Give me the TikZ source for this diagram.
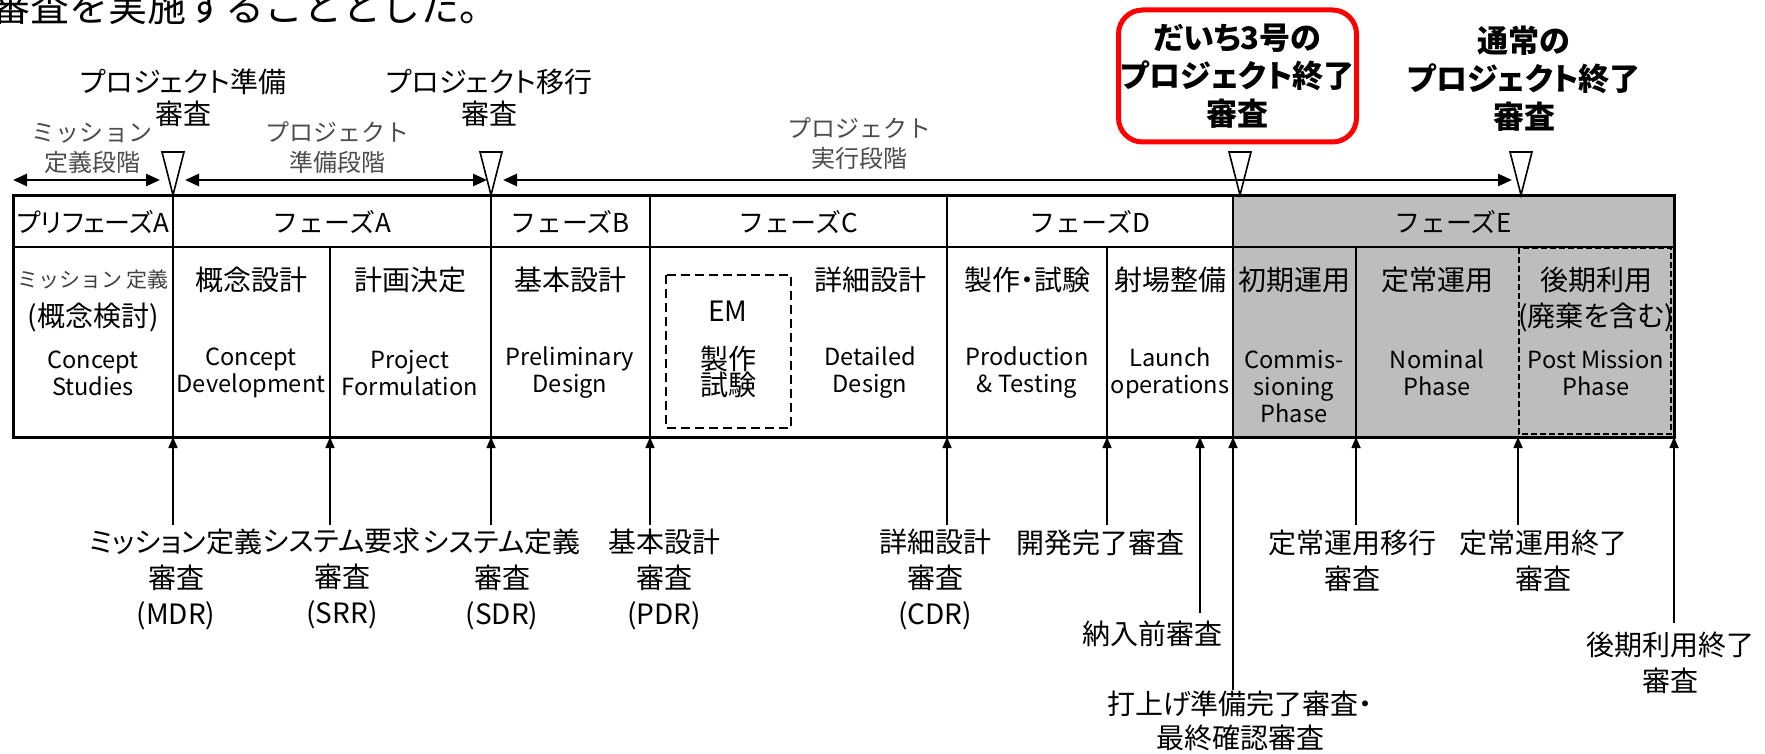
\documentclass[tikz,border=0pt]{standalone}
\usepackage{fontspec}
\setmainfont{Noto Sans CJK JP}[RawFeature=+palt]
\newfontfamily\fw{Noto Sans CJK JP}
\usetikzlibrary{arrows.meta}
\definecolor{phasegray}{RGB}{189,189,189}
\definecolor{boxred}{RGB}{255,0,0}
\newcommand\fs[2]{\fontsize{#1}{#2}\selectfont}
\begin{document}
\begin{tikzpicture}[x=0.5pt,y=-0.5pt,
  txt/.style={inner sep=0pt,align=center},
  hdr/.style={txt,font=\fw\fs{13}{16}},
  jt/.style={txt,font=\fs{14}{17}},
  eng/.style={txt,font=\fs{11.8}{13.5}},
  stagelbl/.style={txt,font=\fw\fs{12}{15},text=black!70},
  toplbl/.style={txt,font=\fs{14}{16}},
  endlbl/.style={txt,font=\bfseries\fs{15.5}{19}},
  revlbl/.style={txt,font=\fs{14}{18}},
  stagespan/.style={line width=1.3pt,{Triangle[length=7pt,width=6pt]}-{Triangle[length=7pt,width=6pt]}},
  uparr/.style={line width=0.8pt,-{Triangle[length=5.5pt,width=4.5pt]}},
  gate/.style={line width=0.8pt,line join=miter},
  tblline/.style={line width=1pt},
]
\useasboundingbox (0,0) rectangle (1765,754);
\clip (0,0) rectangle (1765,754);

% title fragment
\node[inner sep=0pt,anchor=base west,font=\fw\fs{19.5}{21}] (title) at (-9,22) {審査を実施することとした。};

% table
\fill[phasegray] (1233,196) rectangle (1674,437);
\draw[line width=1pt,dash pattern=on 3pt off 1.5pt] (1519,248) rectangle (1671,434);
\draw[line width=1pt,dash pattern=on 4.5pt off 2.5pt] (666,275) rectangle (791,428);
\draw[tblline] (13,247) -- (1674,247);
\foreach \x in {173,491,650,947,1233} \draw[tblline] (\x,196) -- (\x,437);
\foreach \x in {330,1107,1356} \draw[tblline] (\x,247) -- (\x,437);
\draw[line width=1.5pt] (13,196) rectangle (1674,437);

% header
\node[txt,font=\fs{13}{16}] (hPA) at (93,222) {プリフェーズA};
\node[hdr] (hA) at (332,222) {フェーズA};
\node[hdr] (hB) at (570,222) {フェーズB};
\node[hdr] (hC) at (798,222) {フェーズC};
\node[hdr] (hD) at (1090,222) {フェーズD};
\node[hdr] (hE) at (1453,222) {フェーズE};

% body titles
\node[txt,font=\fw\fs{10.5}{12},text=black!75] (j1) at (93,280) {ミッション\,定義};
\node[jt] (j1b) at (93,317) {(概念検討)};
\node[jt] (j2) at (251,280) {概念設計};
\node[jt] (j3) at (410,280) {計画決定};
\node[jt] (j4) at (570,280) {基本設計};
\node[jt] (j5) at (870,280) {詳細設計};
\node[jt] (j6) at (1027,280) {製作・試験};
\node[jt] (j7) at (1170,280) {射場整備};
\node[jt] (j8) at (1294,280) {初期運用};
\node[jt] (j9) at (1437,280) {定常運用};
\node[jt] (j10) at (1596,280) {後期利用};
\node[jt] (j10b) at (1596,317) {(廃棄を含む)};
\node[jt] (em) at (728,311) {EM};
\node[jt,font=\fs{14}{13}] (emjp) at (728,372) {製作\\試験};

% english
\node[eng] (e1) at (93,373) {Concept\\Studies};
\node[eng] (e2) at (251,373) {Concept\\Development};
\node[eng] (e3) at (410,373) {Project\\Formulation};
\node[eng] (e4) at (570,373) {Preliminary\\Design};
\node[eng] (e5) at (870,373) {Detailed\\Design};
\node[eng] (e6) at (1027,373) {Production\\\& Testing};
\node[eng] (e7) at (1170,373) {Launch\\operations};
\node[eng] (e8) at (1294,387) {Commis-\\sioning\\Phase};
\node[eng] (e9) at (1437,373) {Nominal\\Phase};
\node[eng] (e10) at (1596,373) {Post Mission\\Phase};

% stage spans
\coordinate (s0) at (13,180); \coordinate (s1) at (160,180);
\coordinate (s2) at (185,180); \coordinate (s3) at (487,180);
\coordinate (s4) at (503,180); \coordinate (s5) at (1512,180);
\draw[stagespan] (s0) -- (s1);
\draw[stagespan] (s2) -- (s3);
\draw[stagespan] (s4) -- (s5);
\node[stagelbl] (st1) at (92,148) {ミッション\\定義段階};
\node[stagelbl] (st2) at (337,148) {プロジェクト\\準備段階};
\node[stagelbl] (st3) at (859,144) {プロジェクト\\実行段階};

% gates
\foreach \x in {173,491,1240,1521}
  \draw[gate] (\x-11,152) -- (\x+11,152) -- (\x,195) -- cycle;

% gate labels
\node[toplbl] (g1) at (183,98) {プロジェクト準備\\審査};
\node[toplbl] (g2) at (489,98) {プロジェクト移行\\審査};
\node[endlbl,draw=boxred,line width=2.5pt,rounded corners=12pt,minimum width=119pt,minimum height=66pt] (g3) at (1237.5,76) {だいち3号の\\プロジェクト終了\\審査};
\node[endlbl] (g4) at (1524,79) {通常の\\プロジェクト終了\\審査};

% review arrows
\foreach \n/\x/\y in {1/173/525,2/330/525,3/491/525,4/650/525,5/947/525,6/1107/525,7/1200/613,8/1233/690,9/1356/525,10/1518/525,11/1674/623}{
  \coordinate (rb\n) at (\x,\y);
  \coordinate (rt\n) at (\x,437);
  \draw[uparr] (rb\n) -- (rt\n);
}

% review labels
\node[revlbl] (r1) at (176,579) {ミッション定義\\審査\\(MDR)};
\node[revlbl] (r2) at (342,579) {システム要求\\審査\\(SRR)};
\node[revlbl] (r3) at (502,579) {システム定義\\審査\\(SDR)};
\node[revlbl] (r4) at (664,579) {基本設計\\審査\\(PDR)};
\node[revlbl] (r5) at (935,579) {詳細設計\\審査\\(CDR)};
\node[revlbl] (r6) at (1100,543) {開発完了審査};
\node[revlbl] (r7) at (1152,634) {納入前審査};
\node[revlbl,font=\fs{14}{17}] (r8) at (1240,721) {打上げ準備完了審査・\\最終確認審査};
\node[revlbl] (r9) at (1352,561) {定常運用移行\\審査};
\node[revlbl] (r10) at (1543,561) {定常運用終了\\審査};
\node[revlbl] (r11) at (1670,663) {後期利用終了\\審査};
\end{tikzpicture}
\end{document}
